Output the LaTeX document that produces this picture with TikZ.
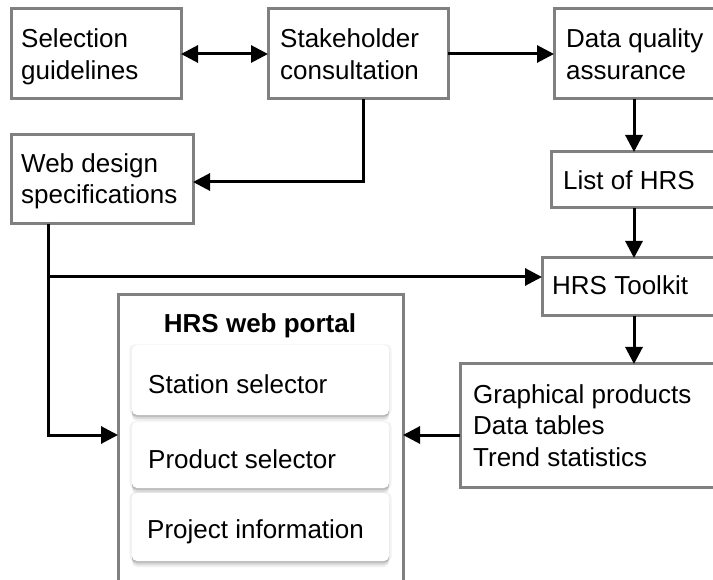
\documentclass[tikz,border=0pt]{standalone}
\usepackage{fontspec}
\setmainfont{Liberation Sans}
\usetikzlibrary{arrows.meta,shadows}
\definecolor{boxgray}{RGB}{128,128,128}
\begin{document}
\begin{tikzpicture}[x=1pt,y=-1pt,
  box/.style={draw=boxgray, line width=3pt, fill=white, anchor=north west, inner sep=0pt, outer sep=0pt},
  card/.style={anchor=north west, inner sep=0pt, outer sep=0pt, fill=white, rounded corners=5pt,
    general shadow={fill=black, opacity=.06, shadow yshift=-6pt},
    general shadow={fill=black, opacity=.09, shadow yshift=-4pt},
    general shadow={fill=black, opacity=.12, shadow yshift=-2pt},
    general shadow={fill=black, opacity=.05, shadow scale=1.02}},
  txt/.style={anchor=base west, inner sep=0pt, font=\fontsize{26}{32}\selectfont},
  arr/.style={draw=black, line width=3pt, -{Triangle[length=17pt,width=17pt]}},
  darr/.style={draw=black, line width=3pt, {Triangle[length=17pt,width=17pt]}-{Triangle[length=17pt,width=17pt]}}]
\useasboundingbox (0,0) rectangle (713,580);
\clip (0,0) rectangle (713,580);
\fill[white] (0,0) rectangle (713,580);

% boxes
\node[box, minimum width=170pt, minimum height=90pt] (sel) at (11,9) {};
\node[box, minimum width=180pt, minimum height=90pt] (stake) at (268,9) {};
\node[box, minimum width=160pt, minimum height=90pt] (dqa) at (554,9) {};
\node[box, minimum width=182pt, minimum height=89pt] (web) at (11,135) {};
\node[box, minimum width=166pt, minimum height=56pt] (list) at (551,152) {};
\node[box, minimum width=184pt, minimum height=58pt] (tool) at (542,258) {};
\node[box, minimum width=300pt, minimum height=123pt] (out) at (460,364) {};
\node[box, minimum width=285pt, minimum height=320pt] (portal) at (118,295) {};

% cards
\node[card, minimum width=257pt, minimum height=70pt] (c1) at (132,345) {};
\node[card, minimum width=257pt, minimum height=66pt] (c2) at (132,422) {};
\node[card, minimum width=257pt, minimum height=68pt] (c3) at (132,493) {};

% texts
\node[txt] (t1a) at (21,48) {Selection};
\node[txt] (t1b) at (21,80) {guidelines};
\node[txt] (t2a) at (280,48) {Stakeholder};
\node[txt] (t2b) at (280,80) {consultation};
\node[txt] (t3a) at (566,48) {Data quality};
\node[txt] (t3b) at (566,80) {assurance};
\node[txt] (t4a) at (21,173) {Web design};
\node[txt] (t4b) at (21,204) {specifications};
\node[txt] (t5) at (563,190) {List of HRS};
\node[txt] (t6) at (552,295) {HRS Toolkit};
\node[txt] (t7a) at (473,403) {Graphical products};
\node[txt] (t7b) at (473,434) {Data tables};
\node[txt] (t7c) at (473,466) {Trend statistics};
\node[txt, anchor=base, font=\fontsize{26}{32}\selectfont\bfseries] (pt) at (260,333) {HRS web portal};
\node[txt] (k1) at (148,393) {Station selector};
\node[txt] (k2) at (148,468) {Product selector};
\node[txt] (k3) at (147,538) {Project information};

% connectors
\coordinate (wd) at ([xshift=37pt]web.south west);
\coordinate (tin) at ([yshift=10pt]tool.west);
\coordinate (pL) at ([yshift=-140pt]portal.north west);
\coordinate (pR) at ([yshift=-140pt]portal.north east);
\coordinate (wIn) at ([yshift=-2.5pt]web.east);
\coordinate (sOut) at ([xshift=5pt]stake.south);

\draw[darr] (sel.east) -- (stake.west);
\draw[arr] (stake.east) -- (dqa.west);
\draw[arr] (sOut) |- (wIn);
\draw[arr] (dqa.south) -- (list.north);
\draw[arr] (list.south) -- (tool.north);
\draw[arr] (wd |- tin) -- (tin);
\draw[arr] (wd) |- (pL);
\draw[arr] (tool.south) -- (tool.south |- out.north);
\draw[arr] (out.west |- pR) -- (pR);
\end{tikzpicture}
\end{document}
